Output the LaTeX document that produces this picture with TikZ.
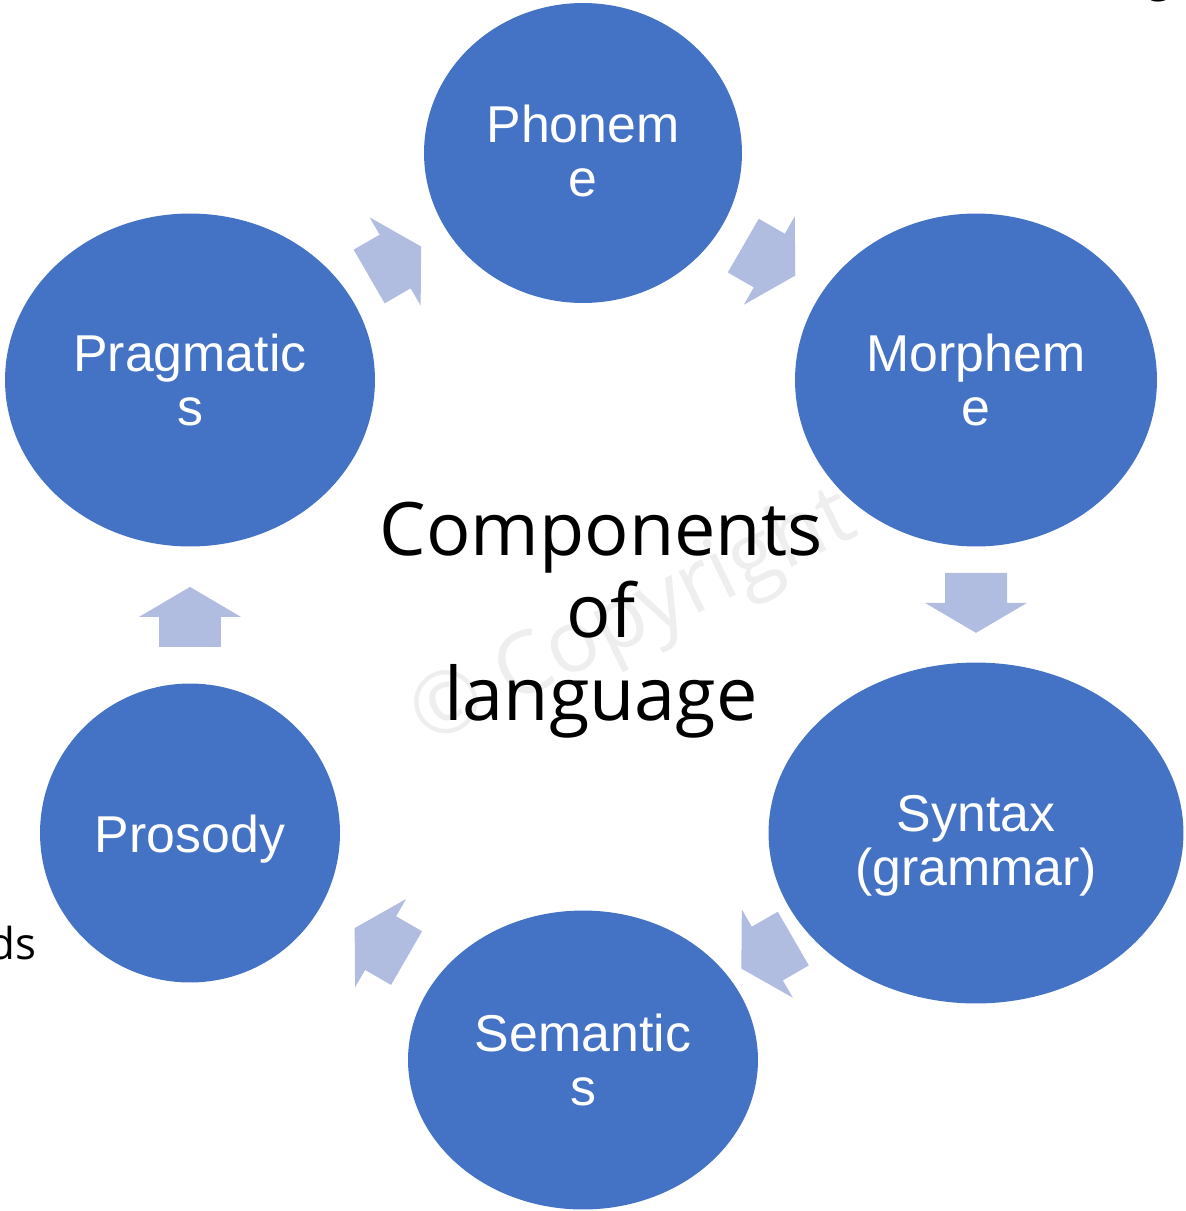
\documentclass[tikz,border=0pt]{standalone}
\usepackage{fontspec}
\setmainfont{Liberation Sans}
\newfontfamily\uifont{Open Sans}
\usetikzlibrary{shapes.geometric,calc}
\definecolor{bubblue}{HTML}{4472C4}
\definecolor{arrowfill}{HTML}{B1BDE0}
\definecolor{wmark}{HTML}{EEEEEE}

\begin{document}
\begin{tikzpicture}[x=0.02cm,y=-0.02cm,
  bub/.style={ellipse,fill=bubblue,draw=none,inner sep=0pt},
  lbl/.style={text=white,align=center,inner sep=0pt,
    font=\fontsize{29.5}{30.6}\selectfont},
  blockarr/.pic={\fill[arrowfill] (-0.6cm,-0.62cm) -- (0,-0.62cm) -- (0,-1.02cm)
    -- (0.6cm,0) -- (0,1.02cm) -- (0,0.62cm) -- (-0.6cm,0.62cm) -- cycle;},
]
\clip (0,0) rectangle (1186,1211);

% faint watermark behind everything
\node[text=wmark,rotate=26,font=\uifont\fontsize{49}{49}\selectfont] (wm) at (634,620) {© Copyright};

% the six components, clockwise from the top
\node[bub,minimum width=6.36cm,minimum height=6.0cm]  (phon)  at (583,153)  {};
\node[bub,minimum width=7.24cm,minimum height=6.66cm] (morph) at (976,380)  {};
\node[bub,minimum width=8.3cm, minimum height=6.82cm] (syn)   at (976,833)  {};
\node[bub,minimum width=7.0cm, minimum height=5.98cm] (sem)   at (583,1060) {};
\node[bub,minimum width=6.0cm, minimum height=5.98cm] (pros)  at (190,833)  {};
\node[bub,minimum width=7.4cm, minimum height=6.66cm] (prag)  at (190,380)  {};

\node[lbl] (phon-t)  at ($(phon)+(0,-2)$) {Phonem\\e};
\node[lbl] (morph-t) at (morph)           {Morphem\\e};
\node[lbl] (syn-t)   at ($(syn)+(0,13)$)  {Syntax\\(grammar)};
\node[lbl] (sem-t)   at (sem)             {Semantic\\s};
\node[lbl] (pros-t)  at ($(pros)+(0,6)$)  {Prosody};
\node[lbl] (prag-t)  at (prag)            {Pragmatic\\s};

% block arrows between neighbouring components
\foreach \a/\b/\t in {prag/phon/0.522, phon/morph/0.474, morph/syn/0.492,
                      syn/sem/0.531, sem/pros/0.515, pros/prag/0.477}
  \path let \p1=($(\b)-(\a)$), \n1={atan2(\y1,\x1)} in
    ($(\a)!\t!(\b)$) pic[rotate=\n1] {blockarr};

% title
\node[align=center,inner sep=0pt,font=\uifont\fontsize{42}{46.8}\selectfont] (title) at (601,620)
  {Components\\of\\language};

% text running in from the edges
\node[anchor=base east,inner sep=0pt,font=\uifont\fontsize{25}{25}\selectfont] (edge-l) at (37,959) {ds};
\node[anchor=base,inner sep=0pt,font=\uifont\fontsize{25}{25}\selectfont] (edge-r) at (1160,-9) {g};
\end{tikzpicture}
\end{document}
